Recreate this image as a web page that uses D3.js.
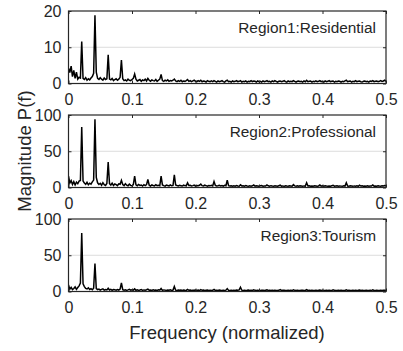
<!DOCTYPE html>
<html>
<head>
<meta charset="utf-8">
<script src="https://cdn.jsdelivr.net/npm/d3@7"></script>
<style>
  html, body { margin: 0; padding: 0; background: #fff; }
  svg { display: block; font-family: "Liberation Sans", Arial, Helvetica, sans-serif; }
</style>
</head>
<body>
<svg id="chart" width="403" height="351"></svg>
<script>
// Spectrum sampled on a grid of 1/480 in normalized frequency (0 .. 0.5).
const freqStep = 1 / 480;

const xTickValues = [0, 0.1, 0.2, 0.3, 0.4, 0.5];
const panelNames = ["Region1:Residential", "Region2:Professional", "Region3:Tourism"];
const yTicksResidential = [0, 10, 20];
const yTicksProfessional = [0, 50, 100];
const yTicksTourism = [0, 50, 100];

const residential = [
  4.2, 3.0, 4.8, 1.9, 3.6, 1.4, 3.1, 1.2, 1.7, 1.5,
  11.6, 1.4, 1.1, 1.6, 0.9, 1.3, 1.0, 1.5, 1.9, 2.8,
  18.8, 3.1, 1.4, 1.1, 1.6, 1.2, 0.9, 1.5, 1.1, 1.3,
  7.9, 1.2, 1.0, 1.4, 0.8, 1.1, 1.3, 0.9, 1.2, 1.7,
  6.5, 1.3, 0.8, 1.0, 0.7, 1.2, 0.9, 0.8, 1.1, 1.4,
  2.6, 1.2, 0.7, 0.9, 1.1, 0.6, 1.0, 0.8, 1.2, 0.7,
  1.4, 0.9, 0.6, 1.0, 0.8, 0.7, 1.1, 0.6, 0.9, 1.2,
  2.5, 0.8, 0.6, 0.9, 0.7, 1.0, 0.6, 0.8, 0.7, 0.9,
  1.2, 0.7, 0.5, 0.8, 0.6, 0.9, 0.5, 0.7, 0.6, 0.8,
  1.1, 0.6, 0.8, 0.5, 0.7, 0.9, 0.6, 0.5, 0.8, 0.6,
  0.9, 0.5, 0.7, 0.6, 0.4, 0.8, 0.6, 0.5, 0.7, 0.5,
  0.8, 0.6, 0.4, 0.7, 0.5, 0.6, 0.8, 0.5, 0.4, 0.7,
  0.9, 0.5, 0.6, 0.4, 0.7, 0.5, 0.6, 0.8, 0.5, 0.6,
  0.8, 0.4, 0.6, 0.5, 0.7, 0.4, 0.6, 0.5, 0.8, 0.5,
  0.7, 0.6, 0.4, 0.7, 0.5, 0.6, 0.4, 0.7, 0.5, 0.6,
  0.8, 0.5, 0.6, 0.4, 0.7, 0.5, 0.8, 0.6, 0.4, 0.6,
  0.7, 0.5, 0.6, 0.8, 0.5, 0.4, 0.7, 0.5, 0.6, 0.5,
  0.8, 0.6, 0.4, 0.6, 0.7, 0.5, 0.6, 0.4, 0.7, 0.5,
  0.9, 0.5, 0.6, 0.7, 0.4, 0.6, 0.5, 0.7, 0.5, 0.6,
  0.8, 0.5, 0.6, 0.4, 0.7, 0.5, 0.6, 0.8, 0.5, 0.6,
  0.7, 0.4, 0.6, 0.5, 0.7, 0.6, 0.4, 0.6, 0.5, 0.7,
  0.9, 0.5, 0.6, 0.7, 0.4, 0.6, 0.5, 0.8, 0.5, 0.6,
  0.7, 0.5, 0.4, 0.6, 0.7, 0.5, 0.6, 0.4, 0.7, 0.6,
  0.8, 0.5, 0.6, 0.7, 0.5, 0.6, 0.8, 0.6, 0.7, 0.9,
  0.6
];

const professional = [
  15.6, 6.2, 9.5, 4.1, 8.0, 3.5, 7.4, 5.2, 8.8, 9.6,
  83.5, 9.0, 6.1, 4.3, 7.2, 3.8, 5.9, 4.6, 7.8, 10.2,
  94.0, 14.0, 6.5, 4.2, 5.8, 3.1, 6.7, 4.0, 2.8, 5.5,
  35.0, 5.2, 3.4, 6.0, 2.7, 4.8, 3.9, 2.5, 5.1, 4.4,
  9.7, 4.0, 2.6, 5.3, 3.2, 2.4, 4.6, 3.0, 2.2, 4.1,
  15.6, 3.8, 2.3, 4.2, 2.9, 3.5, 2.1, 3.8, 2.6, 4.0,
  11.0, 3.2, 2.0, 3.6, 2.8, 2.2, 3.9, 2.5, 3.1, 2.4,
  15.6, 3.5, 2.6, 2.0, 3.3, 2.8, 2.2, 3.6, 2.4, 2.9,
  17.5, 3.4, 2.7, 2.1, 3.0, 2.5, 2.0, 3.2, 2.6, 2.3,
  6.4, 2.8, 3.1, 2.2, 2.6, 3.3, 2.0, 2.7, 2.4, 3.0,
  4.6, 2.5, 2.1, 3.2, 2.6, 1.9, 2.8, 2.3, 3.0, 2.2,
  8.3, 2.7, 2.0, 2.5, 3.1, 2.2, 2.6, 1.8, 2.9, 2.4,
  10.0, 2.6, 2.0, 2.3, 1.7, 2.5, 1.9, 2.7, 2.1, 1.8,
  3.8, 2.2, 2.5, 1.8, 2.6, 2.0, 1.6, 2.4, 1.9, 2.3,
  3.4, 1.9, 2.5, 2.1, 1.7, 2.3, 2.6, 1.8, 2.2, 2.0,
  3.6, 2.3, 1.7, 2.5, 2.0, 1.6, 2.4, 2.1, 1.8, 2.5,
  3.2, 1.9, 2.2, 1.6, 2.5, 2.0, 1.7, 2.3, 2.1, 1.8,
  3.9, 2.2, 1.9, 2.4, 1.7, 2.3, 2.0, 1.6, 2.2, 1.9,
  6.5, 2.1, 2.4, 1.8, 2.2, 1.7, 2.3, 2.0, 1.6, 2.1,
  3.4, 1.9, 2.3, 1.7, 2.4, 2.0, 1.8, 2.2, 1.9, 2.5,
  3.1, 1.8, 2.1, 2.4, 1.7, 2.2, 1.9, 1.6, 2.3, 2.0,
  6.5, 2.1, 1.8, 2.3, 2.0, 1.6, 2.2, 1.9, 2.5, 1.7,
  3.2, 2.0, 2.3, 1.7, 2.1, 1.9, 2.4, 1.8, 2.2, 2.0,
  3.5, 1.9, 2.2, 1.7, 2.3, 2.0, 1.8, 2.4, 2.1, 2.6,
  2.3
];

const tourism = [
  9.0, 3.2, 5.8, 2.6, 4.1, 6.3, 3.0, 5.5, 7.8, 11.7,
  80.7, 10.5, 6.8, 4.2, 3.5, 5.0, 2.8, 3.9, 2.4, 4.6,
  38.4, 4.0, 2.5, 3.4, 2.0, 2.9, 3.6, 1.8, 2.7, 2.2,
  4.5, 2.1, 3.0, 1.7, 2.6, 2.3, 1.9, 2.8, 2.0, 3.3,
  11.7, 2.6, 1.9, 2.4, 1.6, 2.2, 3.0, 1.8, 2.5, 2.0,
  3.6, 1.7, 2.3, 1.5, 2.1, 2.8, 1.6, 2.2, 1.9, 2.4,
  3.2, 1.8, 2.0, 1.4, 2.3, 1.7, 2.1, 1.5, 2.4, 1.8,
  4.2, 1.6, 2.2, 1.9, 1.4, 2.0, 1.7, 2.3, 1.5, 1.9,
  7.0, 1.8, 1.5, 2.1, 1.6, 1.9, 1.4, 2.0, 1.7, 1.5,
  3.0, 1.7, 2.0, 1.4, 1.8, 1.6, 2.1, 1.5, 1.9, 1.3,
  2.6, 1.6, 1.9, 1.4, 1.7, 2.0, 1.5, 1.8, 1.3, 1.7,
  2.8, 1.5, 1.8, 1.3, 1.9, 1.6, 1.4, 1.7, 1.5, 1.9,
  4.0, 1.6, 1.4, 1.8, 1.5, 1.7, 1.3, 1.9, 1.6, 2.2,
  5.8, 1.8, 1.5, 1.7, 1.4, 1.6, 1.9, 1.3, 1.7, 1.5,
  2.4, 1.6, 1.4, 1.8, 1.5, 1.3, 1.7, 1.6, 1.4, 1.8,
  2.2, 1.5, 1.7, 1.3, 1.6, 1.4, 1.8, 1.5, 1.3, 1.6,
  2.5, 1.4, 1.6, 1.8, 1.3, 1.5, 1.7, 1.4, 1.6, 1.3,
  2.3, 1.6, 1.4, 1.7, 1.5, 1.3, 1.6, 1.8, 1.4, 1.5,
  2.6, 1.5, 1.7, 1.3, 1.6, 1.4, 1.5, 1.7, 1.3, 1.6,
  2.1, 1.4, 1.6, 1.5, 1.3, 1.7, 1.4, 1.6, 1.5, 1.3,
  2.4, 1.6, 1.3, 1.5, 1.7, 1.4, 1.6, 1.3, 1.5, 1.4,
  2.2, 1.5, 1.7, 1.4, 1.3, 1.6, 1.5, 1.7, 1.4, 1.6,
  2.0, 1.4, 1.6, 1.3, 1.5, 1.7, 1.4, 1.5, 1.6, 1.3,
  2.3, 1.5, 1.4, 1.6, 1.3, 1.5, 1.7, 1.4, 1.6, 1.8,
  1.5
];

const panels = [
  { name: panelNames[0], values: residential, yTicks: yTicksResidential },
  { name: panelNames[1], values: professional, yTicks: yTicksProfessional },
  { name: panelNames[2], values: tourism, yTicks: yTicksTourism }
];

const svg = d3.select("#chart");
const axisColor = "#262626";
const panelTops = [11, 115, 219];
const panelHeight = 72.5;
const left = 68.5, right = 386;

const x = d3.scaleLinear().domain([0, 0.5]).range([left, right]);

panels.forEach((p, k) => {
  const top = panelTops[k];
  const bottom = top + panelHeight;
  const yMax = d3.max(p.yTicks);
  const y = d3.scaleLinear().domain([0, yMax]).range([bottom, top]);
  const g = svg.append("g");

  const clipId = "clip" + k;
  svg.append("clipPath").attr("id", clipId)
    .append("rect").attr("x", left).attr("y", top)
    .attr("width", right - left).attr("height", panelHeight);

  // horizontal grid
  g.selectAll("line.grid").data(p.yTicks.slice(1, -1)).join("line")
    .attr("class", "grid")
    .attr("x1", left).attr("x2", right)
    .attr("y1", d => y(d)).attr("y2", d => y(d))
    .attr("stroke", "#dcdcdc").attr("stroke-width", 1);

  // spectrum line
  const line = d3.line()
    .x((d, i) => x(i * freqStep))
    .y(d => y(d));
  g.append("path")
    .datum(p.values)
    .attr("clip-path", `url(#${clipId})`)
    .attr("d", line)
    .attr("fill", "none")
    .attr("stroke", "#000")
    .attr("stroke-width", 1.5)
    .attr("stroke-linejoin", "miter");

  // axes with inward ticks
  const xb = d3.axisBottom(x).tickValues(xTickValues)
    .tickSizeInner(-3).tickSizeOuter(0).tickPadding(10)
    .tickFormat(d3.format("~g"));
  const xt = d3.axisTop(x).tickValues(xTickValues)
    .tickSizeInner(-3).tickSizeOuter(0).tickFormat("");
  const yl = d3.axisLeft(y).tickValues(p.yTicks)
    .tickSizeInner(-3).tickSizeOuter(0).tickPadding(7);
  const yr = d3.axisRight(y).tickValues(p.yTicks)
    .tickSizeInner(-3).tickSizeOuter(0).tickFormat("");

  const styleAxis = sel => {
    sel.select(".domain").remove();
    sel.selectAll(".tick line").attr("stroke", axisColor).attr("stroke-width", 1);
    sel.selectAll(".tick text").attr("fill", axisColor)
      .attr("font-size", 16).attr("font-family", "Liberation Sans, Arial, sans-serif");
  };
  g.append("g").attr("transform", `translate(0,${bottom})`).call(xb).call(styleAxis);
  g.append("g").attr("transform", `translate(0,${top})`).call(xt).call(styleAxis);
  g.append("g").attr("transform", `translate(${left},0)`).call(yl).call(styleAxis);
  g.append("g").attr("transform", `translate(${right},0)`).call(yr).call(styleAxis);

  // axes box
  g.append("rect")
    .attr("x", left).attr("y", top)
    .attr("width", right - left).attr("height", panelHeight)
    .attr("fill", "none").attr("stroke", axisColor).attr("stroke-width", 1.2);

  // panel title
  g.append("text")
    .attr("x", 376).attr("y", top + 21.5)
    .attr("text-anchor", "end")
    .attr("font-size", 15.4)
    .attr("fill", axisColor)
    .text(p.name);
});

svg.append("text")
  .attr("transform", "translate(31,151) rotate(-90)")
  .attr("text-anchor", "middle")
  .attr("font-size", 18.5)
  .attr("fill", axisColor)
  .text("Magnitude P(f)");

svg.append("text")
  .attr("x", 227).attr("y", 339)
  .attr("text-anchor", "middle")
  .attr("font-size", 18.5)
  .attr("fill", axisColor)
  .text("Frequency (normalized)");
</script>
</body>
</html>
